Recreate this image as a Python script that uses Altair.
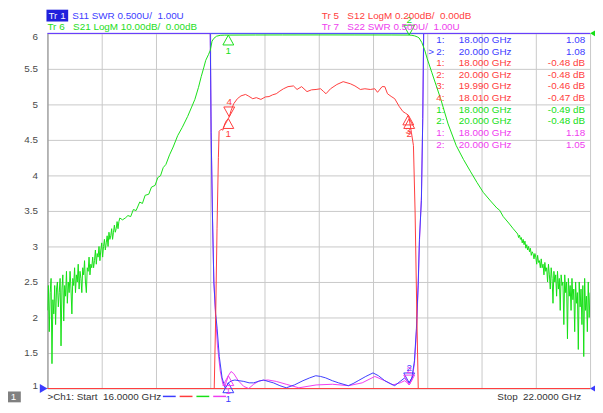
import altair as alt
import pandas as pd

FONT = "Liberation Sans"
BLUE = "#3c3cff"
RED = "#ff3c3c"
GREEN = "#16e016"
MAGENTA = "#f03cf0"

# ---------------- trace data (frequency GHz, native value) ----------------
# Tr1  S11 SWR (U)  -- out-of-band values are off-scale (shown at top edge)
s11 = [(16.00, 6.0), (17.80, 6.0), (17.81, 4.6), (17.825, 3.4), (17.84, 2.5), (17.86, 2.05),
       (17.876, 1.85), (17.90, 1.45), (17.931, 1.15), (17.964, 1.01), (17.985, 1.04), (18.00, 1.08),
       (18.04, 1.11), (18.073, 1.12), (18.12, 1.11), (18.171, 1.10), (18.23, 1.08), (18.28, 1.08),
       (18.33, 1.10), (18.389, 1.12), (18.44, 1.10), (18.498, 1.08), (18.57, 1.04), (18.64, 1.01),
       (18.73, 1.05), (18.825, 1.11), (18.90, 1.15), (18.967, 1.18), (19.02, 1.17), (19.076, 1.15),
       (19.15, 1.11), (19.218, 1.08), (19.327, 1.04), (19.38, 1.07), (19.436, 1.11), (19.52, 1.17),
       (19.60, 1.22), (19.66, 1.18), (19.73, 1.11), (19.79, 1.07), (19.84, 1.04), (19.90, 1.10),
       (19.95, 1.15), (19.98, 1.10), (20.00, 1.08), (20.03, 1.15), (20.058, 1.39), (20.08, 1.85),
       (20.10, 2.5), (20.113, 3.1), (20.135, 3.65), (20.15, 4.8), (20.16, 6.0), (22.00, 6.0)]

# Tr7  S22 SWR (U)
s22 = [(16.00, 6.0), (17.80, 6.0), (17.81, 4.6), (17.825, 3.4), (17.84, 2.5), (17.86, 2.0),
       (17.88, 1.6), (17.91, 1.25), (17.94, 1.06), (17.96, 1.03), (17.98, 1.10), (18.00, 1.18),
       (18.03, 1.24), (18.06, 1.21), (18.11, 1.11), (18.17, 1.03), (18.225, 1.00), (18.28, 1.06),
       (18.345, 1.11), (18.44, 1.12), (18.53, 1.10), (18.64, 1.06), (18.78, 1.01), (18.97, 1.05),
       (19.15, 1.06), (19.33, 1.04), (19.48, 1.08), (19.62, 1.17), (19.73, 1.11), (19.82, 1.05),
       (19.90, 1.08), (19.95, 1.11), (19.98, 1.08), (20.00, 1.05), (20.03, 1.12), (20.058, 1.35),
       (20.08, 1.8), (20.10, 2.45), (20.113, 3.05), (20.135, 3.7), (20.15, 4.8), (20.16, 6.0),
       (22.00, 6.0)]

# Tr5  S12 LogM (dB), 0.2 dB/div -- out-of-band is off-scale (bottom edge)
s12 = [(16.00, -2.0), (17.844, -2.0), (17.86, -1.6), (17.875, -1.1), (17.89, -0.7), (17.898, -0.552),
       (17.92, -0.54), (17.94, -0.545), (17.96, -0.51), (17.98, -0.49), (18.00, -0.48), (18.01, -0.47),
       (18.03, -0.435), (18.06, -0.396), (18.10, -0.368), (18.14, -0.352), (18.19, -0.344),
       (18.22, -0.352), (18.27, -0.368), (18.31, -0.362), (18.36, -0.372), (18.41, -0.358),
       (18.45, -0.356), (18.49, -0.346), (18.53, -0.34), (18.57, -0.325), (18.61, -0.312),
       (18.66, -0.30), (18.72, -0.296), (18.76, -0.316), (18.81, -0.30), (18.87, -0.328),
       (18.92, -0.318), (18.97, -0.316), (19.02, -0.312), (19.05, -0.326), (19.08, -0.34),
       (19.13, -0.312), (19.20, -0.288), (19.27, -0.272), (19.35, -0.284), (19.40, -0.296),
       (19.46, -0.316), (19.51, -0.312), (19.57, -0.316), (19.62, -0.312), (19.65, -0.332),
       (19.70, -0.30), (19.73, -0.30), (19.76, -0.34), (19.80, -0.355), (19.84, -0.368),
       (19.89, -0.412), (19.93, -0.44), (19.96, -0.45), (19.99, -0.46), (20.00, -0.48),
       (20.025, -0.56), (20.047, -0.632), (20.065, -1.0), (20.085, -1.6), (20.10, -2.0), (22.00, -2.0)]

# Tr6  S21 LogM (dB), 10 dB/div
s21_low_start = 16.00          # noisy stop-band, one reading per 10 MHz
s21_low_db = [-78, -71, -84, -73, -69, -93, -75, -79, -71, -82,
              -72, -70, -77, -73, -69, -88, -72, -68, -81, -71,
              -74, -67, -76, -70, -73, -67, -72, -79, -69, -71,
              -66, -73, -68, -70, -65, -72, -67, -69, -73, -66,
              -68, -64, -70, -73, -66, -67, -63, -68, -65, -66,
              -63, -66, -64, -61, -65, -62, -63, -60, -64, -61,
              -59, -63, -60, -58, -61, -59, -57, -60, -56, -58,
              -57, -55, -58, -56, -54, -56, -55, -53, -55, -53,
              -52]
s21_mid = [(16.83, -52.5), (16.86, -52.0), (16.89, -51.3), (16.92, -51.6), (16.95, -49.6),
           (16.98, -49.9), (17.02, -47.5), (17.05, -47.9), (17.08, -45.6), (17.12, -45.3),
           (17.15, -43.3), (17.19, -42.8), (17.22, -40.6), (17.25, -40.1), (17.28, -37.8),
           (17.31, -36.9), (17.35, -34.2), (17.39, -32.0), (17.44, -28.8), (17.49, -26.5),
           (17.55, -23.4), (17.59, -21.0), (17.63, -18.6), (17.67, -15.2), (17.70, -12.2),
           (17.73, -9.5), (17.75, -7.6), (17.78, -6.0), (17.80, -4.8), (17.82, -2.2),
           (17.84, -1.4), (17.87, -0.8), (17.91, -0.55), (17.96, -0.5), (18.00, -0.49),
           (18.30, -0.46), (18.60, -0.45), (19.00, -0.44), (19.40, -0.45), (19.80, -0.46),
           (20.00, -0.48), (20.03, -0.55), (20.06, -0.7), (20.09, -1.0), (20.11, -1.3),
           (20.14, -2.6), (20.17, -4.6), (20.20, -7.2), (20.25, -11.0), (20.30, -14.8),
           (20.35, -18.6), (20.43, -25.5), (20.52, -31.6), (20.60, -35.5), (20.68, -39.0),
           (20.75, -42.0), (20.82, -44.8), (20.90, -47.2), (20.97, -49.2), (21.00, -49.8),
           (21.04, -51.6), (21.10, -53.4), (21.15, -55.0), (21.20, -56.5)]
s21_high_start = 21.21         # noisy upper stop-band, one reading per 10 MHz
s21_high_db = [-57.5, -56.8, -58, -57.5, -59, -58, -59.5, -58.5, -60.5,
               -59.5, -61, -60, -61.5, -60.5, -62.5, -61.5, -62, -63.5, -62,
               -63, -65, -62.5, -64.5, -64, -66, -63.5, -66, -65, -68,
               -64.5, -67, -66, -70, -65, -68, -72, -66, -69, -76,
               -67, -70, -68, -74, -67, -72, -69, -78, -68, -71,
               -70, -82, -68, -73, -70, -86, -69, -74, -71, -78,
               -69, -75, -72, -84, -70, -76, -73, -89, -70, -77,
               -72, -82, -71, -91, -69, -78, -74, -84, -70, -80,
               -73]

# ---------------- markers ----------------
mk_trace = ["S11", "S11", "S12", "S12", "S12", "S12", "S21", "S21", "S22", "S22"]
mk_num = ["1", "2", "1", "2", "3", "4", "1", "2", "1", "2"]
mk_freq = [18.000, 20.000, 18.000, 20.000, 19.990, 18.010, 18.000, 20.000, 18.000, 20.000]
mk_value = [1.08, 1.08, -0.48, -0.48, -0.46, -0.47, -0.49, -0.48, 1.18, 1.05]
mk_side = ["up", "down", "up", "up", "up", "down", "up", "down", "up", "down"]
active_row = 1

TRACES = ["S11", "S12", "S21", "S22"]
COLORS = [BLUE, RED, GREEN, MAGENTA]


def to_axis(trace, v):
    # all traces share the SWR grid (1..6, 0.5 per division)
    if trace == "S21":          # 10 dB/div, ref 0 dB at top line
        return 6 + v / 20.0
    if trace == "S12":          # 0.2 dB/div, ref 0 dB at top line
        return 6 + v * 2.5
    return v


rows = []
for f, v in s11:
    rows.append({"trace": "S11", "f": f, "v": v})
for f, v in s12:
    rows.append({"trace": "S12", "f": f, "v": v})
for i, v in enumerate(s21_low_db):
    rows.append({"trace": "S21", "f": round(s21_low_start + 0.01 * i, 2), "v": v})
for f, v in s21_mid:
    rows.append({"trace": "S21", "f": f, "v": v})
for i, v in enumerate(s21_high_db):
    rows.append({"trace": "S21", "f": round(s21_high_start + 0.01 * i, 2), "v": v})
for f, v in s22:
    rows.append({"trace": "S22", "f": f, "v": v})
df = pd.DataFrame(rows)
df["pos"] = [to_axis(t, v) for t, v in zip(df["trace"], df["v"])]

mk = pd.DataFrame({"trace": mk_trace, "label": mk_num, "f": mk_freq, "v": mk_value, "side": mk_side})
mk["pos"] = [to_axis(t, v) for t, v in zip(mk["trace"], mk["v"])]

refs = pd.DataFrame({"trace": ["S21", "S11", "S11"], "f": [22.0, 16.0, 22.0], "pos": [6.0, 1.0, 1.0],
                     "side": ["L", "R", "L"]})

# ---------------- scales / encodings ----------------
xscale = alt.Scale(domain=[16, 22], nice=False, zero=False)
yscale = alt.Scale(domain=[1, 6], nice=False, zero=False, clamp=True)
xaxis = alt.Axis(values=[round(16 + 0.6 * i, 1) for i in range(11)], labels=False, ticks=False,
                 domain=False, grid=True, gridColor="#c8c8c8", gridOpacity=1, title=None)
yaxis = alt.Axis(values=[1 + 0.5 * i for i in range(11)], format="~g", ticks=False, labelPadding=10,
                 labelFlush=True, labelFlushOffset=2,
                 labelFont=FONT, labelFontSize=10, labelColor="#4a4a4a", domainColor="#888888",
                 gridColor="#c8c8c8", gridOpacity=1, title=None)
X = alt.X("f:Q", scale=xscale, axis=xaxis)
Y = alt.Y("pos:Q", scale=yscale, axis=yaxis)
C = alt.Color("trace:N", scale=alt.Scale(domain=TRACES, range=COLORS), legend=None)

UP = "M0,0L-0.55,1L0.55,1Z"
DOWN = "M0,0L-0.55,-1L0.55,-1Z"
LEFT = "M0,0L1.1,-0.65L1.1,0.65Z"
RIGHT = "M0,0L-1.1,-0.65L-1.1,0.65Z"

layers = []

# frame edges (top blue, bottom red)
layers.append(alt.Chart(pd.DataFrame({"pos": [6.0]})).mark_rule(color=BLUE, strokeWidth=1).encode(y=Y))
layers.append(alt.Chart(pd.DataFrame({"pos": [1.0]})).mark_rule(color=RED, strokeWidth=1).encode(y=Y))

for tr in ["S22", "S11", "S21", "S12"]:
    layers.append(alt.Chart(df).transform_filter(alt.datum.trace == tr)
                  .mark_line(strokeWidth=1, clip=True, interpolate="linear")
                  .encode(x=X, y=Y, color=C))

# marker triangles and numbers
for side, shape, dy in [("up", UP, 16), ("down", DOWN, -15)]:
    sub = alt.Chart(mk).transform_filter(alt.datum.side == side)
    layers.append(sub.mark_point(shape=shape, size=400, filled=False, strokeWidth=1, opacity=1, clip=False)
                  .encode(x=X, y=Y, color=C))
    layers.append(sub.mark_text(dy=dy, font=FONT, fontSize=10, baseline="middle", align="center", clip=False)
                  .encode(x=X, y=Y, text="label:N", color=C))

# reference position indicators
for side, shape in [("L", LEFT), ("R", RIGHT)]:
    layers.append(alt.Chart(refs).transform_filter(alt.datum.side == side)
                  .mark_point(shape=shape, size=200, filled=True, opacity=1, clip=False)
                  .encode(x=X, y=Y, color=C))

ONE = alt.Data(values=[{}])


def txt(s, x, y, color, align="left", size=10, baseline="alphabetic"):
    return (alt.Chart(ONE).mark_text(text=s, font=FONT, fontSize=size, align=align, baseline=baseline,
                                     color=color)
            .encode(x=alt.value(x), y=alt.value(y)))


def box(x0, x1, y0, y1, color):
    return (alt.Chart(ONE).mark_rect(color=color)
            .encode(x=alt.value(x0), x2=alt.value(x1), y=alt.value(y0), y2=alt.value(y1)))


NB = "\u00a0"
# header
layers.append(box(-1, 21, -24, -12, "#2020dc"))
layers.append(txt("Tr 1", 1, -15, "#f0f0ff"))
layers.append(txt("S11 SWR 0.500U/" + NB + NB + "1.00U", 25, -15, "#4040ff"))
layers.append(txt("Tr 5", 278, -15, "#ff4040"))
layers.append(txt("S12 LogM 0.200dB/" + NB + NB + "0.00dB", 304, -15, "#ff4040"))
layers.append(txt("Tr 6", 0, -3, "#22dd22"))
layers.append(txt("S21 LogM 10.00dB/" + NB + NB + "0.00dB", 26, -3, "#22dd22"))
layers.append(txt("Tr 7", 278, -3, "#ee40ee"))
layers.append(txt("S22 SWR 0.500U/" + NB + NB + "1.00U", 304, -3, "#ee40ee"))

# marker table
color_of = dict(zip(TRACES, COLORS))
for i, (t, n, f, v) in enumerate(zip(mk_trace, mk_num, mk_freq, mk_value)):
    yy = 6.7 + i * 11.8
    col = color_of[t]
    if i == active_row:
        layers.append(txt(">", 386, yy, col, baseline="middle"))
    layers.append(txt(n + ":", 394, yy, col, baseline="middle"))
    layers.append(txt(f"{f:.3f} GHz", 417, yy, col, baseline="middle"))
    val = f"{v:.2f}" if t in ("S11", "S22") else f"{v:.2f} dB"
    layers.append(txt(val, 545, yy, col, align="right", baseline="middle"))

# status bar
layers.append(box(-42, -27, 363, 374, "#808080"))
layers.append(txt("1", -34.5, 372, "#ffffff", align="center"))
layers.append(txt(">Ch1:" + NB + "Start" + NB + NB + "16.0000 GHz", 0, 372, "#333333"))
for x0, col in [(117, BLUE), (134, RED), (151, GREEN), (168, MAGENTA)]:
    layers.append(alt.Chart(ONE).mark_rule(color=col, strokeWidth=1.5)
                  .encode(x=alt.value(x0), x2=alt.value(x0 + 13), y=alt.value(368)))
layers.append(txt("Stop" + NB + NB + "22.0000 GHz", 541, 372, "#333333", align="right"))

chart = (alt.layer(*layers)
         .properties(width=550, height=360, background="white",
                     autosize=alt.AutoSizeParams(type="none"),
                     padding={"left": 40, "top": 23, "right": 5, "bottom": 14})
         .configure_view(stroke=None)
         .configure_text(font=FONT))

chart.save("out.html", embed_options={"renderer": "svg", "actions": False})
